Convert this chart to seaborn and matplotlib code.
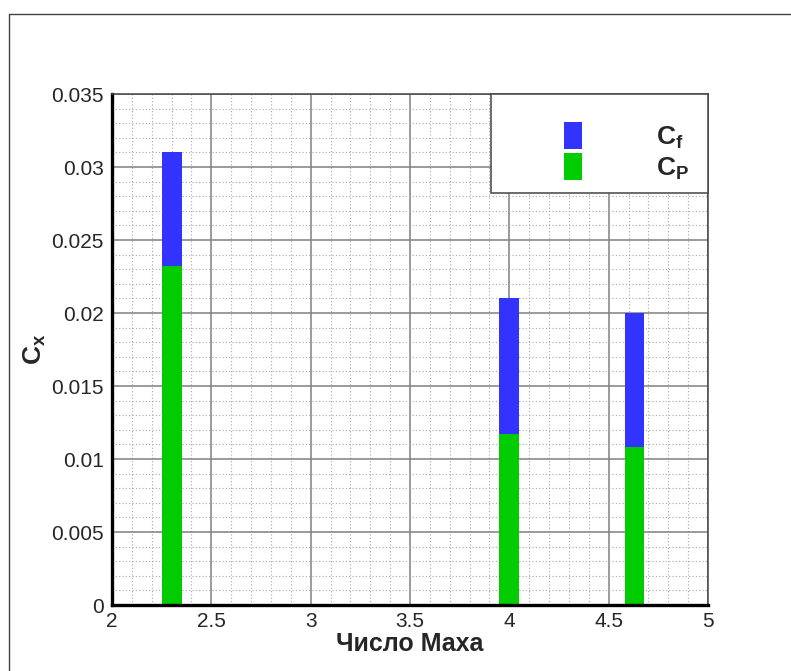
import numpy as np
import pandas as pd
import matplotlib
matplotlib.use("Agg")
import matplotlib.pyplot as plt
import seaborn as sns
from matplotlib.patches import Patch, Rectangle
from matplotlib.legend_handler import HandlerPatch
from matplotlib.lines import Line2D
from matplotlib.ticker import MultipleLocator, FuncFormatter

# Drag coefficient components versus Mach number
mach = [2.3, 4.0, 4.63]
cp_values = [0.0232, 0.0117, 0.0108]   # pressure drag
cf_values = [0.0078, 0.0093, 0.0092]   # friction drag
bar_width = 0.1

blue = "#3333FF"
green = "#00CC00"

sns.set_style("white")
plt.rcParams["font.family"] = ["Liberation Sans", "DejaVu Sans"]
plt.rcParams["mathtext.fontset"] = "custom"
plt.rcParams["mathtext.rm"] = "Liberation Sans"
plt.rcParams["mathtext.bf"] = "Liberation Sans:bold"
plt.rcParams["mathtext.it"] = "Liberation Sans:italic"

df = pd.DataFrame({"mach": mach, "cp": cp_values, "cf": cf_values})
df["total"] = df["cp"] + df["cf"]

fig = plt.figure(figsize=(7.91, 6.71), dpi=100)
ax = fig.add_axes([0.14159, 0.09836, 0.75348, 0.76155])

# width is relative to the smallest gap between bar positions
rel_width = bar_width / np.min(np.diff(np.sort(df["mach"].values)))
sns.barplot(data=df, x="mach", y="total", native_scale=True, width=rel_width,
            color=blue, saturation=1, errorbar=None, linewidth=0, ax=ax)
sns.barplot(data=df, x="mach", y="cp", native_scale=True, width=rel_width,
            color=green, saturation=1, errorbar=None, linewidth=0, ax=ax)

ax.set_xlim(2, 5)
ax.set_ylim(0, 0.035)
ax.xaxis.set_major_locator(MultipleLocator(0.5))
ax.xaxis.set_minor_locator(MultipleLocator(0.1))
ax.yaxis.set_major_locator(MultipleLocator(0.005))
ax.yaxis.set_minor_locator(MultipleLocator(0.001))
fmt = FuncFormatter(lambda v, p: f"{v:g}")
ax.xaxis.set_major_formatter(fmt)
ax.yaxis.set_major_formatter(fmt)

ax.set_axisbelow(True)
ax.grid(which="major", color="#808080", linewidth=1.1, linestyle="-")
ax.grid(which="minor", color="#a8a8a8", linewidth=0.8, linestyle=(0, (1, 2)))

ax.tick_params(axis="both", which="major", direction="in", length=10, width=2.2,
               color="black", labelsize=15, top=False, right=False)
ax.tick_params(axis="y", which="major", pad=6)
ax.tick_params(axis="x", which="major", pad=5)
ax.tick_params(axis="y", which="minor", direction="in", length=5.5, width=1.6,
               color="#777777", right=False)
ax.tick_params(axis="x", which="minor", direction="in", length=5, width=1.0,
               color="black", top=False)

for side in ("left", "bottom"):
    ax.spines[side].set_linewidth(2.4)
    ax.spines[side].set_color("black")
for side in ("top", "right"):
    ax.spines[side].set_linewidth(1.1)
    ax.spines[side].set_color("#444444")

ax.set_xlabel("Число Маха", fontsize=18, fontweight="bold", labelpad=1)
ax.set_ylabel(r"$\mathbf{C_x}$", fontsize=19, labelpad=2)


class RightPatch(HandlerPatch):
    """Legend swatch drawn at the right end of the handle area."""

    def create_artists(self, legend, orig_handle, xdescent, ydescent,
                       width, height, fontsize, trans):
        w, h = 13.0, 19.0
        x0 = -xdescent + width - w + 2.9
        y0 = -ydescent + height / 2 - h / 2 - 6.9
        p = Rectangle((x0, y0), w, h,
                      facecolor=orig_handle.get_facecolor(), edgecolor="none",
                      transform=trans)
        return [p]


handles = [Patch(facecolor=blue), Patch(facecolor=green)]
labels = [r"$\mathbf{C_f}$", r"$\mathbf{C_P}$"]
leg = ax.legend(handles, labels, loc="upper right", bbox_to_anchor=(1, 1),
                borderaxespad=0, fontsize=19, frameon=True, fancybox=False,
                framealpha=1, edgecolor="#444444", borderpad=0.79,
                handlelength=2.5, handleheight=0.9, handletextpad=2.9,
                labelspacing=0.18,
                handler_map={Patch: RightPatch()})
leg.get_frame().set_linewidth(1.1)
# entries sit low inside the frame
for t in leg.get_texts():
    t.set_position((2, -10))

# outer frame of the figure
fig.add_artist(Line2D([9 / 791, 9 / 791], [0, 1 - 14 / 671], color="#444444",
                      linewidth=1, transform=fig.transFigure))
fig.add_artist(Line2D([9 / 791, 1], [1 - 14 / 671, 1 - 14 / 671], color="#444444",
                      linewidth=1, transform=fig.transFigure))

fig.savefig("out.png", dpi=100)
